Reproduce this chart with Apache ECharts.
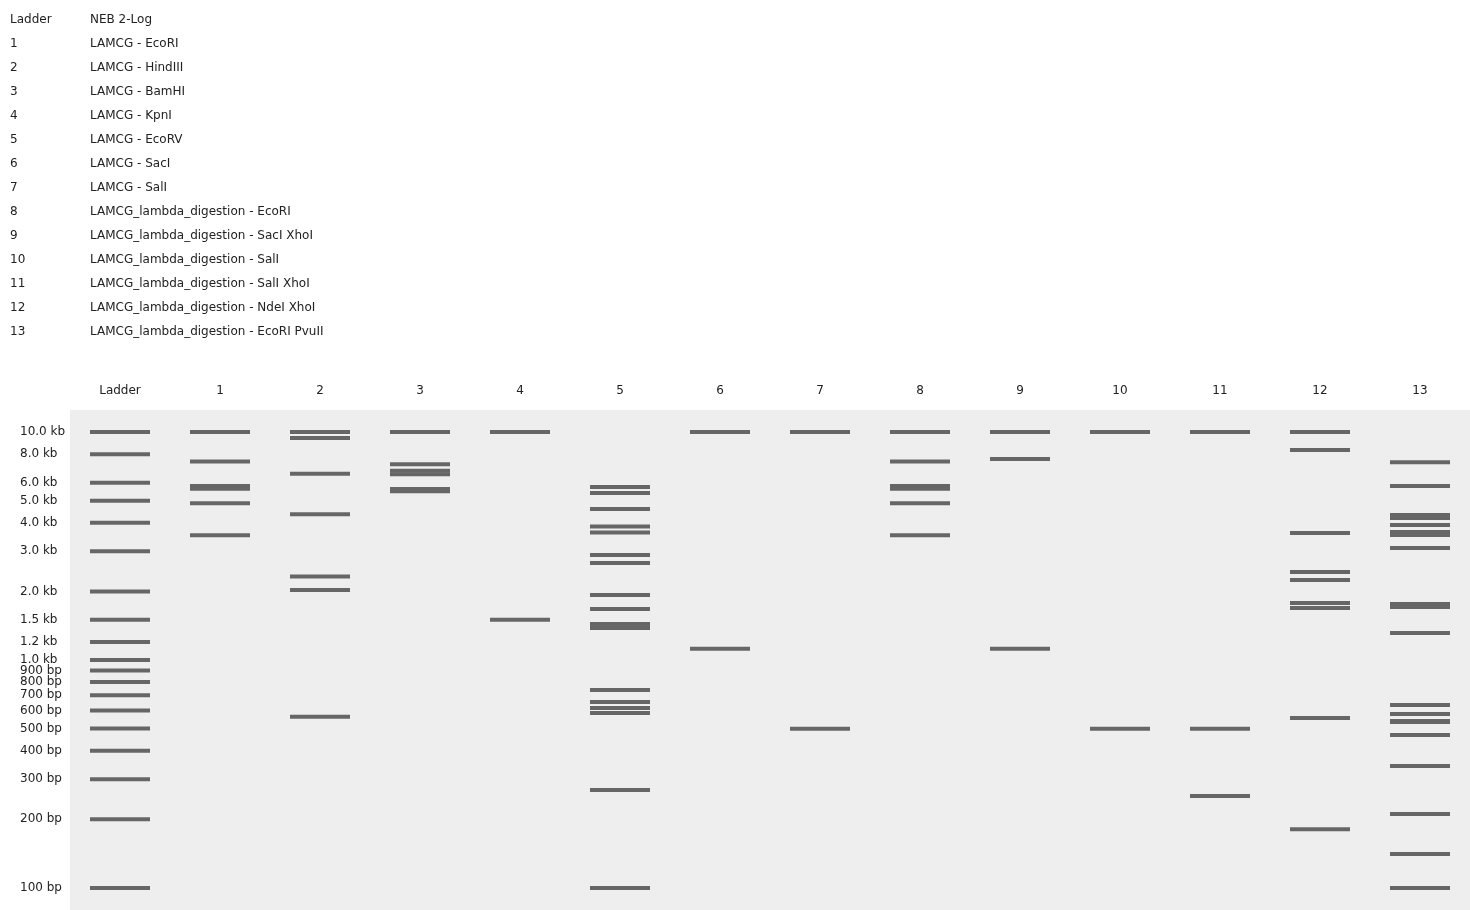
<!DOCTYPE html>
<html><head><meta charset="utf-8">
<script src="https://cdn.jsdelivr.net/npm/echarts@6/dist/echarts.min.js"></script>
<style>html,body{margin:0;padding:0;background:#fff}#c{width:1470px;height:910px}</style>
</head><body><div id="c"></div>
<script>
const lanes = ["Ladder","1","2","3","4","5","6","7","8","9","10","11","12","13"];
const laneNames = ["NEB 2-Log","LAMCG - EcoRI","LAMCG - HindIII","LAMCG - BamHI","LAMCG - KpnI","LAMCG - EcoRV","LAMCG - SacI","LAMCG - SalI","LAMCG_lambda_digestion - EcoRI","LAMCG_lambda_digestion - SacI XhoI","LAMCG_lambda_digestion - SalI","LAMCG_lambda_digestion - SalI XhoI","LAMCG_lambda_digestion - NdeI XhoI","LAMCG_lambda_digestion - EcoRI PvuII"];
const ladderValues = [10000,8000,6000,5000,4000,3000,2000,1500,1200,1000,900,800,700,600,500,400,300,200,100];
const ladderLabels = ["10.0 kb","8.0 kb","6.0 kb","5.0 kb","4.0 kb","3.0 kb","2.0 kb","1.5 kb","1.2 kb","1.0 kb","900 bp","800 bp","700 bp","600 bp","500 bp","400 bp","300 bp","200 bp","100 bp"];
const lane1 = [10000,7421,5804,5643,4878,3530];
const lane2 = [10000,9416,6557,4361,2322,2027,564];
const lane3 = [10000,7233,6770,6527,5626,5505];
const lane4 = [10000,1500];
const lane5 = [5739,5402,4595,3850,3624,2887,2664,1928,1673,1439,1382,739,654,616,585,269,100];
const lane6 = [10000,1120];
const lane7 = [10000,499];
const lane8 = [10000,7421,5804,5643,4878,3530];
const lane9 = [10000,7615,1120];
const lane10 = [10000,499];
const lane11 = [10000,499,253];
const lane12 = [10000,8337,3606,2433,2244,1779,1691,557,181];
const lane13 = [7380,5797,4325,4196,3909,3642,3534,3098,1760,1708,1313,635,580,540,534,469,343,211,141,100];
const laneBands = [ladderValues,lane1,lane2,lane3,lane4,lane5,lane6,lane7,lane8,lane9,lane10,lane11,lane12,lane13];

const bandData = [];
laneBands.forEach((arr,i)=>arr.forEach(v=>bandData.push([i,v])));

const font = 'DejaVu Sans, sans-serif';
const graphics = [];
lanes.forEach((l,i)=>{
  graphics.push({type:'text',left:10,top:14+i*24,style:{text:l,font:'12px '+font,fill:'#222'}});
  graphics.push({type:'text',left:90,top:14+i*24,style:{text:laneNames[i],font:'12px '+font,fill:'#222'}});
});

const chart = echarts.init(document.getElementById('c'));
chart.setOption({
  animation:false,
  graphic:graphics,
  grid:{left:70,right:0,top:410,bottom:0,show:true,backgroundColor:'#eeeeee',borderWidth:0},
  xAxis:{type:'category',data:lanes,position:'top',axisLine:{show:false},axisTick:{show:false},
    axisLabel:{color:'#222',fontSize:12,fontFamily:font,margin:13}},
  yAxis:{type:'log',logBase:10,min:80,max:12500,show:false},
  series:[
    {type:'custom',data:bandData,encode:{x:0,y:1},clip:true,
     renderItem:(params,api)=>{
       const p=api.coord([api.value(0),api.value(1)]);
       return {type:'rect',shape:{x:p[0]-30,y:p[1]-2,width:60,height:4},style:{fill:'#666666'}};
     }},
    {type:'custom',data:ladderValues.map((v,i)=>[0,v,i]),encode:{x:0,y:1},clip:false,
     renderItem:(params,api)=>{
       const p=api.coord([0,api.value(1)]);
       return {type:'text',x:20,y:p[1],style:{text:ladderLabels[api.value(2)],font:'12px '+font,fill:'#222',verticalAlign:'middle',align:'left'}};
     }}
  ]
});
</script></body></html>
